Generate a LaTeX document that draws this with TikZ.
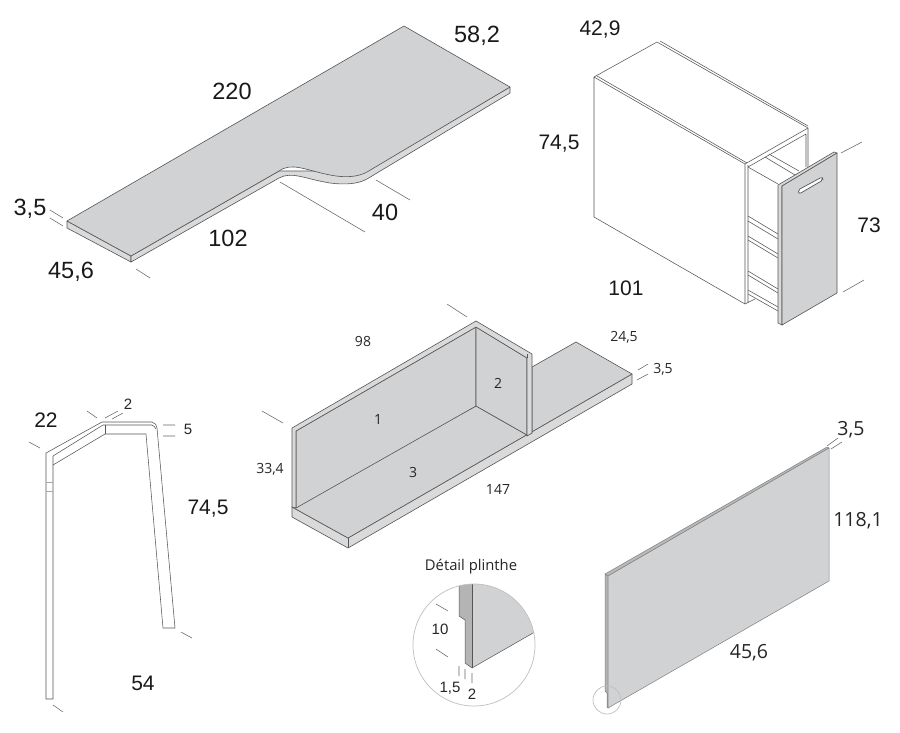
\documentclass[tikz,border=0pt]{standalone}
\usepackage{fontspec}
\setmainfont{Open Sans}
\newfontfamily\arialf{Liberation Sans}
\definecolor{panel}{HTML}{D1D2D4}
\definecolor{edge}{HTML}{DADADB}
\definecolor{strip}{HTML}{B4B4B4}
\definecolor{ink}{HTML}{555555}
\definecolor{tick}{HTML}{666666}
\tikzset{
  x=1pt,y=-1pt,
  face/.style={fill=panel,draw=ink,line width=.6pt,line join=round},
  softface/.style={fill=panel,draw=black!50,line width=.5pt,line join=round},
  side/.style={fill=edge,draw=ink,line width=.6pt,line join=round},
  wire/.style={draw=ink,line width=.55pt,line join=round},
  ticks/.style={draw=tick,line width=.55pt},
  bigdim/.style={font=\fontsize{23.5}{24}\selectfont\arialf,text=black!90,inner sep=0pt,yshift=-1.5pt},
  cabdim/.style={font=\fontsize{21}{21}\selectfont\arialf,text=black!90,inner sep=0pt,yshift=-1pt},
  middim/.style={font=\fontsize{19.5}{20}\selectfont,text=black!85,inner sep=0pt,yshift=-1.5pt},
  smalldim/.style={font=\fontsize{14}{14}\selectfont,text=black!85,inner sep=0pt},
  detaildim/.style={font=\fontsize{15}{15}\selectfont\arialf,text=black!85,inner sep=0pt},
  lens/.style={draw=black!25,line width=.7pt}
}
\begin{document}
\begin{tikzpicture}
\useasboundingbox (0,0) rectangle (900,732);
\fill[white] (0,0) rectangle (900,732);
% ---------- Counter top ----------
\path[side] (67,221) -- (67,228) -- (131,262) -- (131,256) -- cycle;
\path[side] (131,262) -- (279,178)
  .. controls (292,171) and (305,179) .. (330,183)
  .. controls (345,185) and (358,184) .. (367,179)
  -- (510,93) -- (510,87) -- (367,171) -- (279,171) -- (131,256) -- cycle;
\path[face] (67,221) -- (404,26) -- (510,87) -- (367,172)
  .. controls (358,177) and (345,178) .. (330,175)
  .. controls (305,170) and (292,162) .. (279,171)
  -- (131,256) -- cycle;
\draw[ticks] (50,210) -- (63,218) (50,218) -- (63,226) (136,269) -- (150,278)
  (280,182) -- (365,232) (376,180) -- (410,200);
\node[bigdim] (n582) at (477,34) {58,2};
\node[bigdim] (n220) at (232,90) {220};
\node[bigdim] (n35a) at (30,207) {3,5};
\node[bigdim] (n456a) at (71,270) {45,6};
\node[bigdim] (n102) at (228,237) {102};
\node[bigdim] (n40) at (385,211) {40};
% ---------- Cabinet ----------
\path[wire] (594,77) -- (657,42) -- (808,128) -- (808,167);
\path[wire] (594,77) -- (594,217) -- (745,304) -- (745,164) -- cycle;
\path[wire] (597,76) -- (747,163);
\path[wire] (660,41) -- (808,126);
\path[wire] (745,164) -- (808,128) (748,167) -- (806,134) -- (806,167);
\path[wire] (748,165) -- (748,303) (745,304) -- (755,299);
\path[wire] (765,157) -- (795,175) (769,154) -- (799,171);
\path[wire] (748,167) -- (778,184);
\path[wire] (748,216) -- (778,234) (748,221) -- (778,239)
  (748,236) -- (778,254) (748,240) -- (778,258)
  (748,271) -- (778,289) (748,275) -- (778,293)
  (748,290) -- (778,307) (748,294) -- (778,311);
% door
\path[side] (778,185) -- (834,152) -- (837,153) -- (782,186) -- (782,325) -- (778,323) -- cycle;
\path[face] (782,186) -- (837,153) -- (837,293) -- (782,325) -- cycle;
\path[fill=white,draw=ink,line width=.7pt,rounded corners=2pt] (798,190) -- (822,177) -- (823,180) -- (799,194) -- cycle;
\draw[ticks] (841,153) -- (862,142) (843,292) -- (864,280);
\node[cabdim] (n429) at (600,29) {42,9};
\node[cabdim] (n745a) at (559,143) {74,5};
\node[cabdim] (n73) at (869,224) {73};
\node[cabdim] (n101) at (626,287) {101};
% ---------- Leg ----------
\path[wire] (46,453) -- (102,422) -- (152,422) .. controls (155,423) and (157,425) .. (157,428)
  -- (175,628) -- (163,628) -- (146,434) -- (105,434) -- (53,465) -- (53,699) -- (46,699) -- cycle;
\path[wire] (53,465) -- (53,456) -- (103,425) -- (152,425) .. controls (154,426) and (155,427) .. (156,429);
\path[wire] (105,425) -- (105,434);
\path[wire,draw=black!35] (46,482) -- (53,482) (46,491) -- (53,491);
\draw[ticks] (29,442) -- (40,448) (87,411) -- (97,418) (105,418) -- (118,411) (112,419) -- (123,413)
  (163,425) -- (175,425) (163,436) -- (175,436) (181,632) -- (192,638) (53,705) -- (63,712);
\node[cabdim] (n22) at (46,419) {22};
\node[detaildim] (n2a) at (128,404) {2};
\node[detaildim] (n5) at (188,429) {5};
\node[cabdim] (n745b) at (208,508) {74,5};
\node[cabdim] (n54) at (143,682) {54};
% ---------- Centre unit ----------
\path[side] (292,507) -- (292,517) -- (348,548) -- (632,384) -- (632,374) -- (348,538) -- cycle;
\path[wire] (348,538) -- (348,548);
\path[face] (532,367) -- (576,342) -- (632,374) -- (348,538) -- (292,507) -- (476,406) -- (527,435) -- (532,433) -- cycle;
\path[face] (296,431) -- (476,327) -- (476,406) -- (296,508) -- cycle;
\path[face] (476,327) -- (527,358) -- (527,435) -- (476,406) -- cycle;
\path[side] (292,428) -- (476,321) -- (532,354) -- (532,433) -- (527,436) -- (527,358) -- (476,327) -- (296,431) -- (296,508) -- (292,507) -- cycle;
\path[wire] (527,354) -- (527,358);
\draw[ticks] (447,304) -- (467,317) (262,411) -- (283,423) (638,370) -- (648,364) (637,380) -- (648,374);
\node[smalldim] (n98) at (363,341) {98};
\node[smalldim] (n245) at (624,337) {24,5};
\node[smalldim] (n35b) at (663,369) {3,5};
\node[smalldim] (n1) at (378,419) {1};
\node[smalldim] (n2b) at (498,383) {2};
\node[smalldim] (n3) at (413,472) {3};
\node[smalldim] (n334) at (270,469) {33,4};
\node[smalldim] (n147) at (498,489) {147};
% ---------- Detail ----------
\node[smalldim,font=\fontsize{14.8}{15}\selectfont] (title) at (471,567) {Détail plinthe};
\begin{scope}
\clip (474,645) circle (61);
\fill[strip] (459,575) -- (459,616) -- (465,620) -- (465,663) -- (472,668) -- (472,575) -- cycle;
\fill[panel] (472,575) -- (472,668) -- (540,629) -- (540,575) -- cycle;
\draw[ink,line width=.5pt] (459,575) -- (459,616) -- (465,620) -- (465,663) -- (472,668) -- (540,629);
\draw[ink,line width=.5pt] (472,575) -- (472,668);
\end{scope}
\draw[lens] (474,645) circle (61);
\draw[ticks] (436,604) -- (448,611) (436,649) -- (448,657)
  (459,666) -- (459,676) (465,669) -- (465,679) (472,673) -- (472,683);
\node[detaildim] (n10) at (440,629) {10};
\node[detaildim] (n15) at (450,688) {1,5};
\node[detaildim] (n2c) at (472,694) {2};
% ---------- Panel ----------
\path[softface,fill=strip] (605,574) -- (608,576) -- (608,708) -- (607,707) -- (607,693) -- (605,691) -- cycle;
\path[softface,fill=edge!85!black] (605,574) -- (827,447) -- (829,448) -- (608,576) -- cycle;
\path[softface] (608,576) -- (829,448) -- (829,581) -- (608,708) -- cycle;
\draw[lens] (607,700) circle (14);
\draw[ticks] (827,446) -- (838,438) (831,449) -- (842,442);
\node[middim] (n35c) at (851,428) {3,5};
\node[middim] (n1181) at (858,519) {118,1};
\node[middim] (n456b) at (749,651) {45,6};
\end{tikzpicture}
\end{document}
